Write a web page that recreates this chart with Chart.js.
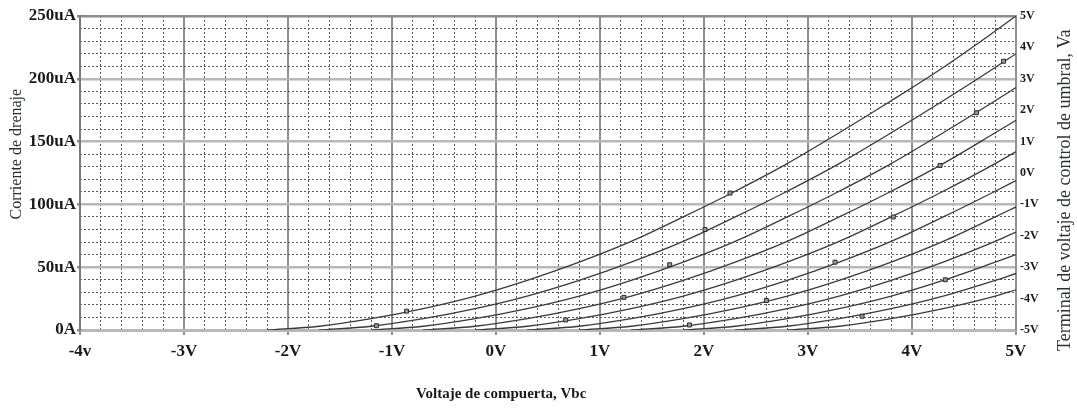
<!DOCTYPE html>
<html>
<head>
<meta charset="utf-8">
<title>Corriente de drenaje vs Voltaje de compuerta</title>
<script src="https://cdn.jsdelivr.net/npm/chart.js@4.4.1/dist/chart.umd.min.js"></script>
<style>
  html, body { margin: 0; padding: 0; background: #fff; }
  #wrap { width: 1077px; height: 408px; position: relative; }
</style>
</head>
<body>
<div id="wrap"><canvas id="chart"></canvas></div>

<script>
// Voltaje de compuerta (V), common x grid for every curve
const vbc = [-2.2, -1.7, -1.2, -0.7, -0.2, 0.3, 0.8, 1.3, 1.8, 2.3, 2.8, 3.3, 3.8, 4.3, 4.8, 5.0];

// Corriente de drenaje (uA), one curve per Va, top curve first
const idVa5  = [0, 3, 9, 17, 27, 39.5, 54, 70.5, 90, 110.5, 132.5, 157, 182.5, 209, 238, 250];
const idVa4  = [null, 0, 3, 9, 17, 27, 39.5, 54, 70.5, 90, 110.5, 132.5, 157, 182.5, 209, 220];
const idVa3  = [null, null, 0, 3, 9, 17, 27, 39.5, 54, 70.5, 90, 110.5, 132.5, 157, 182.5, 193];
const idVa2  = [null, null, null, 0, 3, 9, 17, 27, 39.5, 54, 70.5, 90, 110.5, 132.5, 157, 167];
const idVa1  = [null, null, null, null, 0, 3, 9, 17, 27, 39.5, 54, 70.5, 90, 110.5, 132.5, 142];
const idVa0  = [null, null, null, null, null, 0, 3, 9, 17, 27, 39.5, 54, 70.5, 90, 110.5, 119];
const idVaM1 = [null, null, null, null, null, null, 0, 3, 9, 17, 27, 39.5, 54, 70.5, 90, 98];
const idVaM2 = [null, null, null, null, null, null, null, 0, 3, 9, 17, 27, 39.5, 54, 70.5, 78];
const idVaM3 = [null, null, null, null, null, null, null, null, 0, 3, 9, 17, 27, 39.5, 54, 60];
const idVaM4 = [null, null, null, null, null, null, null, null, null, 0, 3, 9, 17, 27, 39.5, 45];
const idVaM5 = [null, null, null, null, null, null, null, null, null, null, 0, 3, 9, 17, 27, 32];

// small markers sitting on the curves
const markerVbc = [4.88, 4.62, 4.27, 3.82, 3.26, 4.32, 2.60, 3.52, 2.25, 2.01, 1.67, 1.23, 0.67, 1.86, -0.86, -1.15];
const markerId  = [214, 173, 131, 90, 54, 40, 23.5, 11, 109, 80, 52, 26, 8, 4, 15, 3.4];

// tick labels
const xTickLabels  = ['-4v', '-3V', '-2V', '-1V', '0V', '1V', '2V', '3V', '4V', '5V'];
const yTickLabels  = ['0A', '50uA', '100uA', '150uA', '200uA', '250uA'];
const vaTickLabels = ['-5V', '-4V', '-3V', '-2V', '-1V', '0V', '1V', '2V', '3V', '4V', '5V'];

const curves = [idVa5, idVa4, idVa3, idVa2, idVa1, idVa0, idVaM1, idVaM2, idVaM3, idVaM4, idVaM5];

const serif = '"Liberation Serif", "Times New Roman", serif';
const isWhole = (v, step) => Math.abs(v / step - Math.round(v / step)) < 1e-6;

const datasets = curves.map(c => ({
    type: 'line',
    data: vbc.map((x, i) => ({ x: x, y: c[i] })),
    borderColor: '#3a3a3a',
    borderWidth: 1.3,
    pointRadius: 0,
    cubicInterpolationMode: 'monotone',
    spanGaps: false,
    xAxisID: 'x',
    yAxisID: 'y',
    order: 2
}));

datasets.push({
    type: 'scatter',
    data: markerVbc.map((x, i) => ({ x: x, y: markerId[i] })),
    pointStyle: 'rect',
    pointRadius: 2.8,
    backgroundColor: '#9a9a9a',
    borderColor: '#2a2a2a',
    borderWidth: 1,
    showLine: false,
    xAxisID: 'x',
    yAxisID: 'y',
    order: 1
});

// axis titles (text only)
const axisTitles = {
    id: 'axisTitles',
    afterDraw(chart) {
        const { ctx, chartArea: a, scales } = chart;
        ctx.save();
        ctx.textAlign = 'center';
        ctx.textBaseline = 'middle';

        ctx.fillStyle = '#2b2f3a';
        ctx.font = '16px ' + serif;
        ctx.save();
        ctx.translate(a.left - 63, a.top + a.height * 0.44);
        ctx.rotate(-Math.PI / 2);
        ctx.fillText('Corriente de drenaje', 0, 0);
        ctx.restore();

        ctx.font = '18px ' + serif;
        ctx.save();
        ctx.translate(a.right + 49, a.top + a.height * 0.555);
        ctx.rotate(-Math.PI / 2);
        ctx.fillText('Terminal de voltaje de control de umbral, Va', 0, 0);
        ctx.restore();

        ctx.fillStyle = '#1a1a1a';
        ctx.font = 'bold 15px ' + serif;
        ctx.fillText('Voltaje de compuerta, Vbc', scales.x.getPixelForValue(0.05), a.bottom + 64);
        ctx.restore();
    }
};

new Chart(document.getElementById('chart'), {
    type: 'line',
    data: { datasets: datasets },
    plugins: [axisTitles],
    options: {
        responsive: true,
        maintainAspectRatio: false,
        animation: false,
        layout: { padding: { top: 16 } },
        plugins: {
            legend: { display: false },
            tooltip: { enabled: false }
        },
        scales: {
            xMinor: {
                type: 'linear',
                position: 'bottom',
                min: -4, max: 5,
                ticks: { display: false, stepSize: 0.2 },
                grid: {
                    z: -1,
                    drawTicks: false,
                    lineWidth: 1,
                    color: c => isWhole(c.tick.value, 1) ? 'rgba(0,0,0,0)' : '#5a5a5a'
                },
                border: { display: false, dash: [2, 2] },
                afterFit: s => { s.height = 0; }
            },
            x: {
                type: 'linear',
                position: 'bottom',
                min: -4, max: 5,
                ticks: {
                    stepSize: 1,
                    autoSkip: false,
                    maxRotation: 0,
                    padding: 6,
                    color: '#1a1a1a',
                    font: { family: serif, size: 17, weight: 'bold' },
                    callback: v => xTickLabels[Math.round(v + 4)]
                },
                grid: { color: '#8f8f8f', lineWidth: 2, tickLength: 5, tickColor: '#8f8f8f' },
                border: { color: '#b8b8b8', width: 3 },
                afterFit: s => { s.height = 78; }
            },
            yMinor: {
                type: 'linear',
                position: 'left',
                min: 0, max: 250,
                ticks: { display: false, stepSize: 10 },
                grid: {
                    z: -1,
                    drawTicks: false,
                    lineWidth: 1,
                    color: c => isWhole(c.tick.value, 50) ? 'rgba(0,0,0,0)' : '#5a5a5a'
                },
                border: { display: false, dash: [2, 2] },
                afterFit: s => { s.width = 0; }
            },
            y: {
                type: 'linear',
                position: 'left',
                min: 0, max: 250,
                ticks: {
                    stepSize: 50,
                    padding: 1,
                    color: '#1a1a1a',
                    font: { family: serif, size: 17, weight: 'bold' },
                    callback: v => yTickLabels[Math.round(v / 50)]
                },
                grid: {
                    lineWidth: 2.5,
                    tickLength: 3,
                    color: c => c.tick.value === 250 ? '#8c8c8c' : '#b8b8b8',
                    tickColor: '#8c8c8c'
                },
                border: { color: '#7a7a7a', width: 2 },
                afterFit: s => { s.width = 80; }
            },
            yVa: {
                type: 'linear',
                position: 'right',
                min: -5, max: 5,
                ticks: {
                    stepSize: 1,
                    padding: 4,
                    color: '#1a1a1a',
                    font: { family: serif, size: 12, weight: 'bold' },
                    callback: v => vaTickLabels[Math.round(v + 5)]
                },
                grid: { drawOnChartArea: false, drawTicks: false },
                border: { color: '#939393', width: 2 },
                afterFit: s => { s.width = 61; }
            }
        }
    }
});
</script>
</body>
</html>
